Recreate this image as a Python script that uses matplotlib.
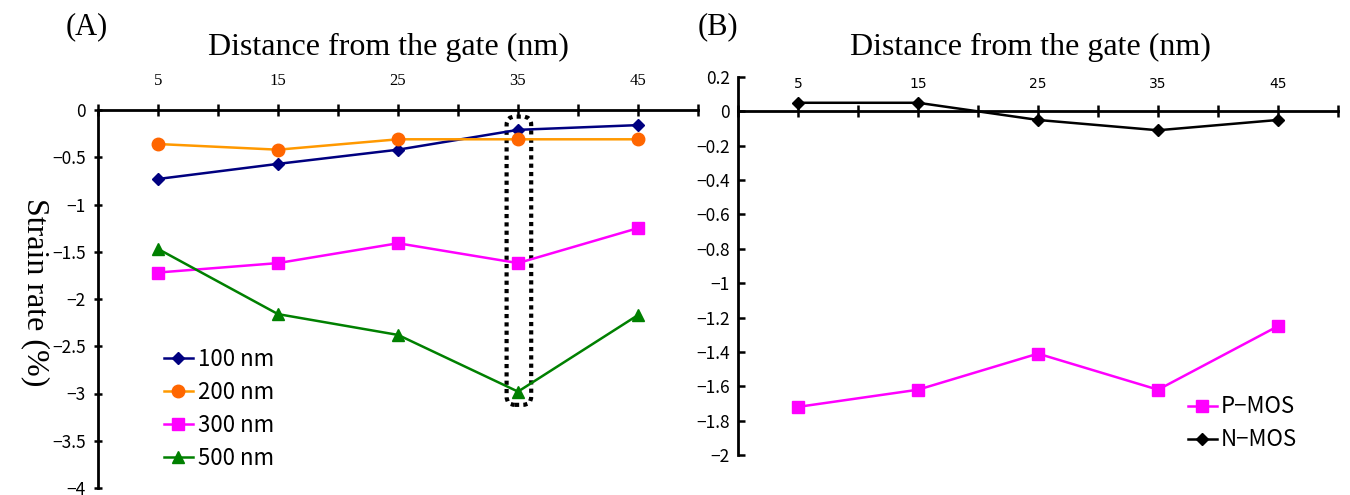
import numpy as np
import matplotlib
matplotlib.use('Agg')
from matplotlib import pyplot as plt
from matplotlib.patches import FancyBboxPatch

distance = [5, 15, 25, 35, 45]
strain_100 = [-0.73, -0.57, -0.42, -0.21, -0.16]
strain_200 = [-0.36, -0.42, -0.31, -0.31, -0.31]
strain_300 = [-1.72, -1.62, -1.41, -1.62, -1.25]
strain_500 = [-1.47, -2.16, -2.38, -2.98, -2.17]
pmos = [-1.72, -1.62, -1.41, -1.62, -1.25]
nmos = [0.05, 0.05, -0.05, -0.11, -0.05]

yticks_a = [0, -0.5, -1, -1.5, -2, -2.5, -3, -3.5, -4]
yticks_b = [0.2, 0, -0.2, -0.4, -0.6, -0.8, -1, -1.2, -1.4, -1.6, -1.8, -2]
xminor = [0, 10, 20, 30, 40, 50]

serif = 'Liberation Serif'
sans = ['Noto Sans CJK JP', 'DejaVu Sans']


def fmt(v):
    return f'{v:g}'.replace('-', '\u2212')


def style_axis(ax):
    ax.set_xlim(0, 50)
    ax.xaxis.tick_top()
    ax.set_xticks(distance)
    ax.set_xticklabels([str(d) for d in distance], fontfamily=serif, fontsize=12)
    ax.set_xticks(xminor, minor=True)
    ax.tick_params(axis='x', which='both', direction='inout', length=8, width=1.8,
                   pad=11, top=True, bottom=False)
    for s in ['right', 'bottom']:
        ax.spines[s].set_visible(False)
    ax.spines['top'].set_linewidth(2)
    ax.spines['left'].set_linewidth(2)
    ax.patch.set_alpha(0)


fig = plt.figure(figsize=(13.5, 4.95), dpi=100)

# (A)
ax1 = fig.add_axes([98 / 1350, 1 - 488 / 495, 600 / 1350, 378 / 495])
ax1.plot(distance, strain_100, color='#000080', marker='D', markersize=6.5, lw=1.8, label='100 nm')
ax1.plot(distance, strain_200, color='#FF9900', marker='o', markersize=9, lw=1.8,
         markerfacecolor='#FF6600', markeredgecolor='#FF6600', label='200 nm')
ax1.plot(distance, strain_300, color='#FF00FF', marker='s', markersize=8, lw=1.8, label='300 nm')
ax1.plot(distance, strain_500, color='#008000', marker='^', markersize=8.5, lw=1.8, label='500 nm')
ax1.set_ylim(-4, 0)
ax1.set_yticks(yticks_a)
ax1.set_yticklabels([fmt(v) for v in yticks_a], fontfamily=sans, fontsize=12.5)
ax1.tick_params(axis='y', direction='inout', length=6, width=1.8, pad=6)
style_axis(ax1)

box = FancyBboxPatch((34.05, -3.12), 2.05, 3.05,
                     boxstyle='round,pad=0,rounding_size=0.7',
                     mutation_aspect=12 / 94.5, fill=False, edgecolor='black',
                     linestyle=(0, (1, 1)), linewidth=3)
ax1.add_patch(box)

ax1.legend(loc='lower left', bbox_to_anchor=(0.095, 0.024), frameon=False,
           prop={'family': sans, 'size': 16}, handlelength=1.3, handletextpad=0.25,
           labelspacing=0.45, borderaxespad=0.0)

# (B)
ax2 = fig.add_axes([738 / 1350, 1 - 455 / 495, 600 / 1350, 378 / 495])
ax2.plot(distance, pmos, color='#FF00FF', marker='s', markersize=8, lw=1.8, label='P\u2212MOS')
ax2.plot(distance, nmos, color='black', marker='D', markersize=6.5, lw=1.8, label='N\u2212MOS')
ax2.set_ylim(-2, 0.2)
ax2.set_yticks(yticks_b)
ax2.set_yticklabels([fmt(v) for v in yticks_b], fontfamily=sans, fontsize=12.5)
ax2.tick_params(axis='y', direction='in', length=5, width=1.8, pad=6)
style_axis(ax2)
ax2.spines['top'].set_position(('data', 0))
ax2.legend(loc='lower left', bbox_to_anchor=(441 / 600, -0.014), frameon=False,
           prop={'family': sans, 'size': 16}, handlelength=1.3, handletextpad=0.2,
           labelspacing=0.45, borderaxespad=0.0)

fig.text(388 / 1350, 1 - 47 / 495, 'Distance from the gate (nm)', fontfamily=serif,
         fontsize=23, ha='center', va='center')
fig.text(1030 / 1350, 1 - 47 / 495, 'Distance from the gate (nm)', fontfamily=serif,
         fontsize=23, ha='center', va='center')
fig.text(87 / 1350, 1 - 27 / 495, '(A)', fontfamily=serif, fontsize=22, ha='center', va='center')
fig.text(718 / 1350, 1 - 27 / 495, '(B)', fontfamily=serif, fontsize=22, ha='center', va='center')
fig.text(35 / 1350, 1 - 292 / 495, 'Strain rate (%)', fontfamily=serif, fontsize=23,
         rotation=-90, ha='center', va='center')

plt.savefig('out.png', dpi=100)
